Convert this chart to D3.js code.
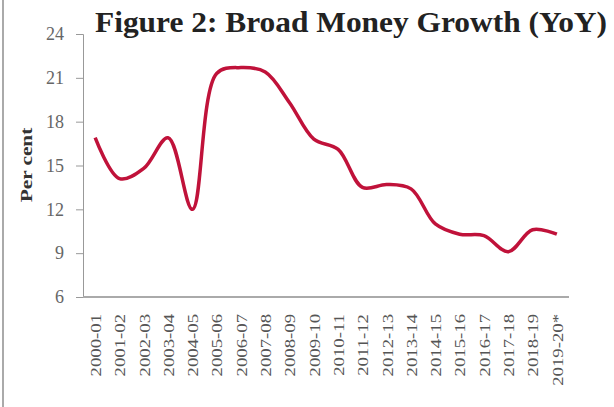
<!DOCTYPE html>
<html>
<head>
<meta charset="utf-8">
<script src="https://cdn.jsdelivr.net/npm/d3@7"></script>
<style>
  body { margin: 0; background: #fff; }
  svg { display: block; }
</style>
</head>
<body>
<div id="chart"></div>
<script>
var years = ["2000-01","2001-02","2002-03","2003-04","2004-05","2005-06","2006-07",
    "2007-08","2008-09","2009-10","2010-11","2011-12","2012-13","2013-14",
    "2014-15","2015-16","2016-17","2017-18","2018-19","2019-20*"];
var growth = [16.9, 14.1, 14.8, 16.9, 12.0, 21.3, 21.7, 21.4, 19.3, 16.8,
    16.1, 13.5, 13.7, 13.4, 11.0, 10.3, 10.2, 9.1, 10.6, 10.3];
var yTicks = [6, 9, 12, 15, 18, 21, 24];

var W = 614, H = 407;
var plotLeft = 83, plotRight = 569, plotTop = 34, plotBottom = 297;
// the source picture is a little stretched vertically
var stretch = 1.25;

var svg = d3.select("#chart").append("svg")
    .attr("width", W)
    .attr("height", H);

// frame line on the left edge
svg.append("line")
    .attr("x1", 3).attr("x2", 3)
    .attr("y1", 0).attr("y2", H)
    .style("stroke", "#aaa")
    .style("stroke-width", 2);

var x = d3.scalePoint()
    .domain(years)
    .range([plotLeft, plotRight])
    .padding(0.5);

var y = d3.scaleLinear()
    .domain([6, 24])
    .range([plotBottom, plotTop]);

// y axis
var yAxis = svg.append("g")
    .attr("transform", "translate(" + plotLeft + ",0)")
    .call(d3.axisLeft(y).tickValues(yTicks).tickSize(7).tickPadding(12));
yAxis.select(".domain").style("stroke", "#999");
yAxis.selectAll(".tick line").style("stroke", "#999");
yAxis.selectAll("text")
    .style("font-family", "'Liberation Serif', serif")
    .style("font-size", "18px")
    .style("fill", "#666");

// x axis
var xAxis = svg.append("g")
    .attr("transform", "translate(0," + plotBottom + ")")
    .call(d3.axisBottom(x).tickSize(0).tickPadding(0));
xAxis.select(".domain")
    .attr("d", "M" + plotLeft + ",0H" + plotRight)
    .style("stroke", "#aaa")
    .style("stroke-width", 2);
xAxis.selectAll("text")
    .attr("transform", "rotate(-90) scale(" + stretch + ",1)")
    .attr("x", -17 / stretch)
    .attr("y", 0)
    .attr("dy", "0.35em")
    .style("text-anchor", "end")
    .style("font-family", "'Liberation Serif', serif")
    .style("font-size", "15px")
    .style("fill", "#555");

// y label
svg.append("text")
    .attr("transform", "translate(32,165) rotate(-90) scale(" + stretch + ",1)")
    .style("text-anchor", "middle")
    .style("font-family", "'Liberation Serif', serif")
    .style("font-weight", "bold")
    .style("font-size", "17px")
    .style("fill", "#333")
    .text("Per cent");

// title
svg.append("text")
    .attr("x", 95)
    .attr("y", 32)
    .attr("textLength", 512)
    .attr("lengthAdjust", "spacingAndGlyphs")
    .style("font-family", "'Liberation Serif', serif")
    .style("font-weight", "bold")
    .style("font-size", "29px")
    .style("fill", "#222")
    .text("Figure 2: Broad Money Growth (YoY)");

// line
var line = d3.line()
    .x(function(d, i) { return x(years[i]); })
    .y(function(d) { return y(d); })
    .curve(d3.curveCatmullRom.alpha(0.5));

svg.append("path")
    .datum(growth)
    .attr("d", line)
    .style("fill", "none")
    .style("stroke", "#c0123a")
    .style("stroke-width", 3.5)
    .style("stroke-linejoin", "round");
</script>
</body>
</html>
